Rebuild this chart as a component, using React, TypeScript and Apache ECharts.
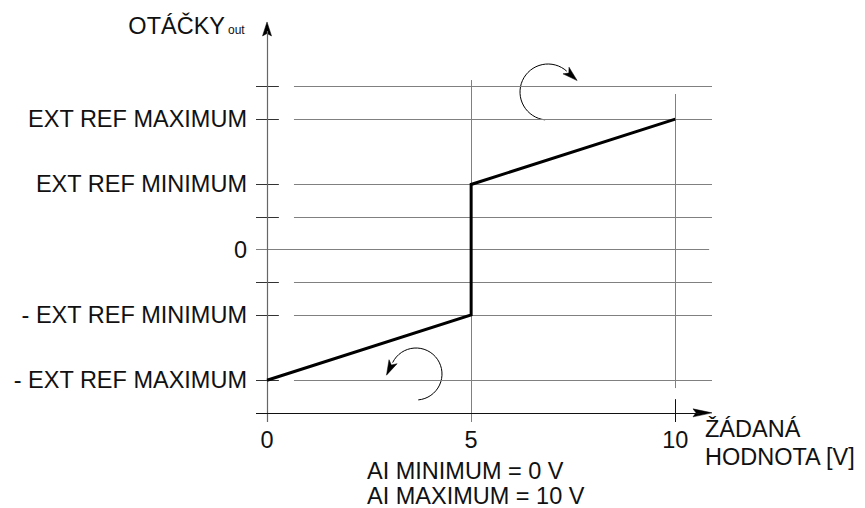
import React, { useEffect, useRef } from "react";
import * as echarts from "echarts";

// ---- data ----
const xTickValues = [0, 5, 10];
const yTickValues = [2, 1, 0, -1, -2];
const yTickLabels = [
  "EXT REF MAXIMUM",
  "EXT REF MINIMUM",
  "0",
  "- EXT REF MINIMUM",
  "- EXT REF MAXIMUM",
];
const yMinorLevels = [2.5, 0.5, -0.5];
const transferX = [0, 5, 5, 10];
const transferY = [-2, -1, 1, 2];

const FONT = '"Liberation Sans", Arial, Helvetica, sans-serif';
const FS = 23.5;

// axis extents (data units)
const X_MIN = -0.27;
const X_MAX = 10.9;
const Y_MIN = -2.64;
const Y_MAX = 3.52;
const Y_TIP = 3.49;
const X_AXIS_Y = -2.5;

function seg(x0: number, y0: number, x1: number, y1: number, style: any) {
  return [
    { coord: [x0, y0], lineStyle: style, symbol: "none" },
    { coord: [x1, y1], symbol: "none" },
  ];
}

function arrowHead(cx: number, cy: number, r: number, angDeg: number, dir: number, L: number, W: number) {
  const a = (angDeg * Math.PI) / 180;
  const bx = cx + r * Math.cos(a);
  const by = cy + r * Math.sin(a);
  const tx = dir * -Math.sin(a);
  const ty = dir * Math.cos(a);
  const nx = -ty;
  const ny = tx;
  return [
    [bx + L * tx, by + L * ty],
    [bx + (W / 2) * nx - 1 * tx, by + (W / 2) * ny - 1 * ty],
    [bx + 0.2 * L * tx, by + 0.2 * L * ty],
    [bx - (W / 2) * nx - 1 * tx, by - (W / 2) * ny - 1 * ty],
  ];
}

export default function App() {
  const ref = useRef<HTMLDivElement>(null);
  useEffect(() => {
    document.body.style.margin = "0";
    if (!ref.current) return;
    const chart = echarts.init(ref.current, undefined, { renderer: "svg" });

    const gridStyle = { color: "#808080", width: 1, type: "solid" };
    const tickStyle = { color: "#333", width: 1, type: "solid" };
    const segments: any[] = [];
    const allLevels = [...yTickValues, ...yMinorLevels];
    allLevels.forEach((lv) => {
      if (lv === 0) {
        segments.push(seg(X_MIN, lv, 10.83, lv, gridStyle));
      } else {
        segments.push(seg(X_MIN, lv, 0.29, lv, tickStyle));
        segments.push(seg(0.66, lv, X_MAX, lv, gridStyle));
      }
    });
    // vertical grid lines
    segments.push(seg(5, 2.6, 5, Y_MIN, gridStyle));
    segments.push(seg(10, 2.386, 10, -2.12, gridStyle));
    segments.push(seg(10, -2.29, 10, Y_MIN, { color: "#111", width: 1, type: "solid" }));
    // axes
    segments.push(seg(0, Y_MIN, 0, 3.35, { color: "#666", width: 1.2, type: "solid" }));
    segments.push(seg(X_MIN, X_AXIS_Y, 10.6, X_AXIS_Y, { color: "#111", width: 1.2, type: "solid" }));

    const upC = { cx: 548, cy: 92, r: 28 };
    const loC = { cx: 416, cy: 374, r: 26 };

    const textStyle = (text: string, x: number, y: number, align: string, size = FS) => ({
      type: "text",
      x,
      y,
      silent: true,
      style: {
        text,
        fill: "#111",
        fontSize: size,
        fontFamily: FONT,
        align,
        verticalAlign: "middle",
      },
    });

    const baseGraphic: any[] = [
      textStyle("OTÁČKY", 225, 26, "right"),
      textStyle("out", 228, 29.5, "left", 12),
      textStyle("ŽÁDANÁ", 705, 429, "left"),
      textStyle("HODNOTA [V]", 705, 456.5, "left"),
      textStyle("AI MINIMUM = 0 V", 367, 471, "left"),
      textStyle("AI MAXIMUM = 10 V", 367, 496, "left"),
      {
        type: "arc",
        silent: true,
        shape: {
          cx: upC.cx,
          cy: upC.cy,
          r: upC.r,
          startAngle: (96 * Math.PI) / 180,
          endAngle: (312 * Math.PI) / 180,
          clockwise: true,
        },
        style: { stroke: "#000", lineWidth: 1, fill: "none" },
      },
      {
        type: "polygon",
        silent: true,
        shape: { points: arrowHead(upC.cx, upC.cy, upC.r, 312, 1, 14, 9) },
        style: { fill: "#000", stroke: "#000", lineWidth: 0.5 },
      },
      {
        type: "arc",
        silent: true,
        shape: {
          cx: loC.cx,
          cy: loC.cy,
          r: loC.r,
          startAngle: (85 * Math.PI) / 180,
          endAngle: (-154 * Math.PI) / 180,
          clockwise: false,
        },
        style: { stroke: "#000", lineWidth: 1, fill: "none" },
      },
      {
        type: "polygon",
        silent: true,
        shape: { points: arrowHead(loC.cx, loC.cy, loC.r, -154, -1, 14, 9) },
        style: { fill: "#000", stroke: "#000", lineWidth: 0.5 },
      },
    ];

    chart.setOption({
      animation: false,
      grid: { left: 256, right: 865 - 712, top: 20, bottom: 508 - 422, containLabel: false },
      xAxis: {
        type: "value",
        min: X_MIN,
        max: X_MAX,
        axisLine: { show: false },
        axisTick: { show: false },
        splitLine: { show: false },
        axisLabel: {
          customValues: xTickValues,
          margin: 6,
          color: "#111",
          fontSize: FS,
          fontFamily: FONT,
          lineHeight: 24,
        },
      },
      yAxis: {
        type: "value",
        min: Y_MIN,
        max: Y_MAX,
        axisLine: { show: false },
        axisTick: { show: false },
        splitLine: { show: false },
        axisLabel: {
          customValues: yTickValues,
          margin: 9,
          color: "#111",
          fontSize: FS,
          fontFamily: FONT,
          formatter: (v: number) => {
            const i = yTickValues.indexOf(Math.round(v * 100) / 100);
            return i >= 0 ? yTickLabels[i] : "";
          },
        },
      },
      series: [
        {
          type: "line",
          name: "grid",
          data: [],
          z: 1,
          silent: true,
          markLine: {
            silent: true,
            animation: false,
            symbol: ["none", "none"],
            label: { show: false },
            emphasis: { disabled: true },
            data: segments,
          },
        },
        {
          type: "line",
          name: "transfer",
          z: 5,
          data: transferX.map((x, i) => [x, transferY[i]]),
          symbol: "none",
          silent: true,
          lineStyle: { color: "#000", width: 3, join: "miter" },
        },
      ],
      graphic: baseGraphic,
    });

    // axis arrowheads placed through the axes' scales
    const yTip = chart.convertToPixel({ xAxisIndex: 0, yAxisIndex: 0 }, [0, Y_TIP]) as number[];
    const xTip = chart.convertToPixel({ xAxisIndex: 0, yAxisIndex: 0 }, [X_MAX, X_AXIS_Y]) as number[];
    if (yTip && xTip) {
      const [yx, yy] = yTip;
      const [xx, xy] = xTip;
      chart.setOption({
        graphic: [
          ...baseGraphic,
          {
            type: "polygon",
            silent: true,
            shape: {
              points: [
                [yx, yy],
                [yx - 4.5, yy + 14],
                [yx, yy + 11.5],
                [yx + 4.5, yy + 14],
              ],
            },
            style: { fill: "#000", stroke: "#000", lineWidth: 0.5 },
          },
          {
            type: "polygon",
            silent: true,
            shape: {
              points: [
                [xx, xy],
                [xx - 19, xy - 4],
                [xx - 16, xy],
                [xx - 19, xy + 4],
              ],
            },
            style: { fill: "#000", stroke: "#000", lineWidth: 0.5 },
          },
        ],
      });
    }

    return () => chart.dispose();
  }, []);

  return (
    <div
      ref={ref}
      style={{ position: "fixed", left: 0, top: 0, width: 865, height: 508, background: "#fff" }}
    />
  );
}
